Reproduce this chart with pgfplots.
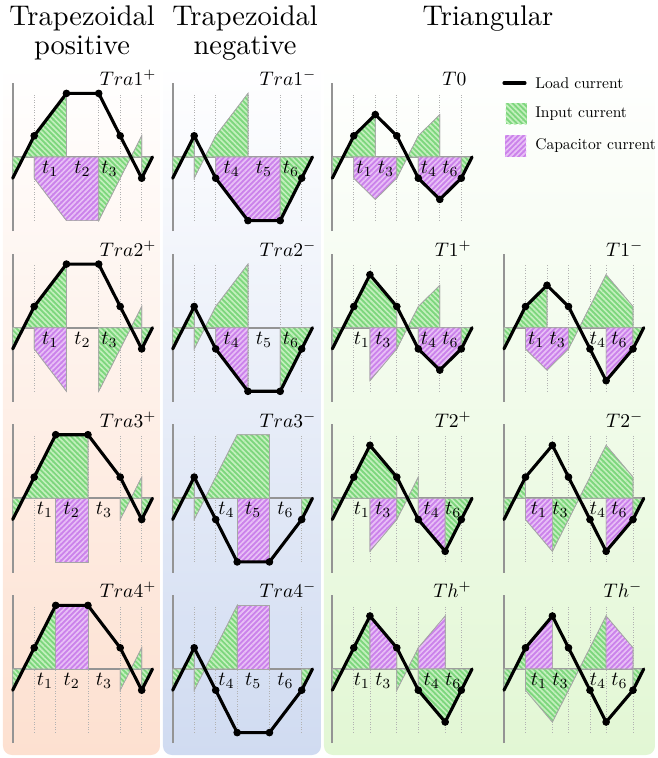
\documentclass[border=0pt]{standalone}
\usepackage{pgfplots}
\pgfplotsset{compat=1.18}
\usetikzlibrary{patterns.meta}
\definecolor{ig}{RGB}{125,214,125}
\definecolor{igl}{RGB}{196,240,190}
\definecolor{cc}{RGB}{203,130,235}
\definecolor{ccl}{RGB}{232,192,246}
\definecolor{bga}{RGB}{253,224,208}
\definecolor{bgb}{RGB}{208,219,241}
\definecolor{bgc}{RGB}{226,247,212}
\newcommand{\tenpt}{\fontsize{10}{12}\selectfont}
\pgfplotsset{
 panelax/.style={anchor=south west, x=9.675pt, y=9.54pt, xmin=0, xmax=6.5, ymin=-3.5, ymax=3.5, hide axis, clip=false},
 inp/.style={fill=ig, draw=black!35, line width=0.3pt, postaction={pattern={Lines[angle=-45,distance=1.7pt,line width=0.75pt]}, pattern color=igl}},
 cap/.style={fill=cc, draw=black!35, line width=0.3pt, postaction={pattern={Lines[angle=45,distance=1.7pt,line width=0.75pt]}, pattern color=ccl}},
 load/.style={black, line width=1.4pt, line join=round, line cap=round},
 dots/.style={only marks, mark=*, mark size=1.5pt, black},
}
\tikzset{gridst/.style={black!30, line width=0.35pt, dash pattern=on 0.35pt off 0.8pt}, axst/.style={black!42, line width=0.8pt}}
\newcommand{\panel}[4]{%
 \begin{axis}[panelax, at={({#1*0.45pt},{-(#2+74.2)*0.45pt})}]
  \pgfplotsinvokeforeach{#3}{\draw[gridst] (axis cs:##1,-3) -- (axis cs:##1,3);}
  \draw[axst] (axis cs:0,-3.5) -- (axis cs:0,3.5);
  \draw[axst] (axis cs:0,0) -- (axis cs:6.5,0);
  #4
 \end{axis}}
\newcommand{\lab}[2]{\node[font=\tenpt, scale=0.9, inner sep=0pt] at (axis cs:#1,-0.55) {$#2$};}
\newcommand{\plabel}[2]{\node[font=\tenpt, scale=0.88, anchor=base east, inner sep=0pt] at (axis cs:#1,3.35) {$#2$};}
\begin{document}
\begin{tikzpicture}
\begin{scope}[x=0.45pt,y=-0.45pt]
 \shade[top color=white, bottom color=bga, rounded corners=4pt] (3,62) rectangle (160,755);
 \shade[top color=white, bottom color=bgb, rounded corners=4pt] (163,62) rectangle (321,755);
 \shade[top color=white, bottom color=bgc, rounded corners=4pt] (324,62) rectangle (655,755);
 \node[font=\tenpt, scale=1.28, anchor=base, inner sep=0pt] at (82,25) {Trapezoidal};
 \node[font=\tenpt, scale=1.28, anchor=base, inner sep=0pt] at (82,54) {positive};
 \node[font=\tenpt, scale=1.28, anchor=base, inner sep=0pt] at (245,25) {Trapezoidal};
 \node[font=\tenpt, scale=1.28, anchor=base, inner sep=0pt] at (245,54) {negative};
 \node[font=\tenpt, scale=1.28, anchor=base, inner sep=0pt] at (488,25) {Triangular};
 \draw[black, line width=1.4pt, line cap=round] (504,83) -- (525,83);
 \node[font=\tenpt, scale=0.7, anchor=west, inner sep=0pt] at (535,83) {Load current};
 \path[fill=ig, postaction={pattern={Lines[angle=-45,distance=1.7pt,line width=0.75pt]}, pattern color=igl}] (505.7,103.3) rectangle (526.7,124.3);
 \node[font=\tenpt, scale=0.7, anchor=west, inner sep=0pt] at (535,114) {Input current};
 \path[fill=cc, postaction={pattern={Lines[angle=45,distance=1.7pt,line width=0.75pt]}, pattern color=ccl}] (505.5,135.3) rectangle (526.5,156.5);
 \node[font=\tenpt, scale=0.7, anchor=west, inner sep=0pt] at (535,146) {Capacitor current};
\end{scope}
% ---------- Tra1+
\panel{12.7}{157}{1,2.5,4,5,6}{
 \addplot[inp] coordinates {(0,0)(0,-1)(1,1)(2.5,3)(2.5,0)} -- cycle;
 \addplot[cap] coordinates {(1,0)(1,-1)(2.5,-3)(4,-3)(4,0)} -- cycle;
 \addplot[inp] coordinates {(4,0)(4,-3)(6,1)(6,0)} -- cycle;
 \addplot[inp] coordinates {(6,0)(6,-1)(6.5,0)} -- cycle;
 \addplot[load] coordinates {(0,-1)(1,1)(2.5,3)(4,3)(5,1)(6,-1)(6.5,0)};
 \addplot[dots] coordinates {(1,1)(2.5,3)(4,3)(5,1)(6,-1)};
 \lab{1.75}{t_1}\lab{3.25}{t_2}\lab{4.5}{t_3}
 \plabel{6.7}{Tra1^+}
}
% ---------- Tra2+
\panel{12.7}{327.7}{1,2.5,4,5,6}{
 \addplot[inp] coordinates {(0,0)(0,-1)(1,1)(2.5,3)(2.5,0)} -- cycle;
 \addplot[cap] coordinates {(1,0)(1,-1)(2.5,-3)(2.5,0)} -- cycle;
 \addplot[inp] coordinates {(4,0)(4,-3)(6,1)(6,0)} -- cycle;
 \addplot[inp] coordinates {(6,0)(6,-1)(6.5,0)} -- cycle;
 \addplot[load] coordinates {(0,-1)(1,1)(2.5,3)(4,3)(5,1)(6,-1)(6.5,0)};
 \addplot[dots] coordinates {(1,1)(2.5,3)(4,3)(5,1)(6,-1)};
 \lab{1.75}{t_1}\lab{3.25}{t_2}\lab{4.5}{t_3}
 \plabel{6.7}{Tra2^+}
}
% ---------- Tra3+
\panel{12.7}{498.3}{1,2,3.5,5,6}{
 \addplot[inp] coordinates {(0,0)(0,-1)(1,1)(2,3)(3.5,3)(3.5,0)} -- cycle;
 \addplot[cap] coordinates {(2,0)(2,-3)(3.5,-3)(3.5,0)} -- cycle;
 \addplot[inp] coordinates {(5,0)(5,-1)(6,1)(6,0)} -- cycle;
 \addplot[inp] coordinates {(6,0)(6,-1)(6.5,0)} -- cycle;
 \addplot[load] coordinates {(0,-1)(1,1)(2,3)(3.5,3)(5,1)(6,-1)(6.5,0)};
 \addplot[dots] coordinates {(1,1)(2,3)(3.5,3)(5,1)(6,-1)};
 \lab{1.5}{t_1}\lab{2.75}{t_2}\lab{4.25}{t_3}
 \plabel{6.7}{Tra3^+}
}
% ---------- Tra4+
\panel{12.7}{669}{1,2,3.5,5,6}{
 \addplot[inp] coordinates {(0,0)(0,-1)(1,1)(2,3)(2,0)} -- cycle;
 \addplot[cap] coordinates {(2,0)(2,3)(3.5,3)(3.5,0)} -- cycle;
 \addplot[inp] coordinates {(5,0)(5,-1)(6,1)(6,0)} -- cycle;
 \addplot[inp] coordinates {(6,0)(6,-1)(6.5,0)} -- cycle;
 \addplot[load] coordinates {(0,-1)(1,1)(2,3)(3.5,3)(5,1)(6,-1)(6.5,0)};
 \addplot[dots] coordinates {(1,1)(2,3)(3.5,3)(5,1)(6,-1)};
 \lab{1.5}{t_1}\lab{2.75}{t_2}\lab{4.25}{t_3}
 \plabel{6.7}{Tra4^+}
}
% ---------- Tra1-
\panel{172.7}{157}{1,2,3.5,5,6}{
 \addplot[inp] coordinates {(0,0)(0,-1)(1,1)(1,0)} -- cycle;
 \addplot[inp] coordinates {(1,0)(1,-1)(2,1)(3.5,3)(3.5,0)} -- cycle;
 \addplot[cap] coordinates {(2,0)(2,-1)(3.5,-3)(5,-3)(5,0)} -- cycle;
 \addplot[inp] coordinates {(5,0)(5,-3)(6,-1)(6.5,0)} -- cycle;
 \addplot[load] coordinates {(0,-1)(1,1)(2,-1)(3.5,-3)(5,-3)(6,-1)(6.5,0)};
 \addplot[dots] coordinates {(1,1)(2,-1)(3.5,-3)(5,-3)(6,-1)};
 \lab{2.75}{t_4}\lab{4.25}{t_5}\lab{5.5}{t_6}
 \plabel{6.7}{Tra1^-}
}
% ---------- Tra2-
\panel{172.7}{327.7}{1,2,3.5,5,6}{
 \addplot[inp] coordinates {(0,0)(0,-1)(1,1)(1,0)} -- cycle;
 \addplot[inp] coordinates {(1,0)(1,-1)(2,1)(3.5,3)(3.5,0)} -- cycle;
 \addplot[cap] coordinates {(2,0)(2,-1)(3.5,-3)(3.5,0)} -- cycle;
 \addplot[inp] coordinates {(5,0)(5,-3)(6,-1)(6.5,0)} -- cycle;
 \addplot[load] coordinates {(0,-1)(1,1)(2,-1)(3.5,-3)(5,-3)(6,-1)(6.5,0)};
 \addplot[dots] coordinates {(1,1)(2,-1)(3.5,-3)(5,-3)(6,-1)};
 \lab{2.75}{t_4}\lab{4.25}{t_5}\lab{5.5}{t_6}
 \plabel{6.7}{Tra2^-}
}
% ---------- Tra3-
\panel{172.7}{498.3}{1,2,3,4.5,6}{
 \addplot[inp] coordinates {(0,0)(0,-1)(1,1)(1,0)} -- cycle;
 \addplot[inp] coordinates {(1,0)(1,-1)(2,1)(3,3)(4.5,3)(4.5,0)} -- cycle;
 \addplot[cap] coordinates {(3,0)(3,-3)(4.5,-3)(4.5,0)} -- cycle;
 \addplot[inp] coordinates {(6,0)(6,-1)(6.5,0)} -- cycle;
 \addplot[load] coordinates {(0,-1)(1,1)(2,-1)(3,-3)(4.5,-3)(6,-1)(6.5,0)};
 \addplot[dots] coordinates {(1,1)(2,-1)(3,-3)(4.5,-3)(6,-1)};
 \lab{2.5}{t_4}\lab{3.75}{t_5}\lab{5.25}{t_6}
 \plabel{6.7}{Tra3^-}
}
% ---------- Tra4-
\panel{172.7}{669}{1,2,3,4.5,6}{
 \addplot[inp] coordinates {(0,0)(0,-1)(1,1)(1,0)} -- cycle;
 \addplot[inp] coordinates {(1,0)(1,-1)(2,1)(3,3)(3,0)} -- cycle;
 \addplot[cap] coordinates {(3,0)(3,3)(4.5,3)(4.5,0)} -- cycle;
 \addplot[inp] coordinates {(6,0)(6,-1)(6.5,0)} -- cycle;
 \addplot[load] coordinates {(0,-1)(1,1)(2,-1)(3,-3)(4.5,-3)(6,-1)(6.5,0)};
 \addplot[dots] coordinates {(1,1)(2,-1)(3,-3)(4.5,-3)(6,-1)};
 \lab{2.5}{t_4}\lab{3.75}{t_5}\lab{5.25}{t_6}
 \plabel{6.7}{Tra4^-}
}
% ---------- T0
\panel{332.3}{157}{1,2,3,4,5,6}{
 \addplot[inp] coordinates {(0,0)(0,-1)(1,1)(2,2)(2,0)} -- cycle;
 \addplot[cap] coordinates {(1,0)(1,-1)(2,-2)(3,-1)(3,0)} -- cycle;
 \addplot[inp] coordinates {(3,0)(3,-1)(4,1)(5,2)(5,0)} -- cycle;
 \addplot[cap] coordinates {(4,0)(4,-1)(5,-2)(6,-1)(6,0)} -- cycle;
 \addplot[inp] coordinates {(6,0)(6,-1)(6.5,0)} -- cycle;
 \addplot[load] coordinates {(0,-1)(1,1)(2,2)(3,1)(4,-1)(5,-2)(6,-1)(6.5,0)};
 \addplot[dots] coordinates {(1,1)(2,2)(3,1)(4,-1)(5,-2)(6,-1)};
 \lab{1.5}{t_1}\lab{2.5}{t_3}\lab{4.5}{t_4}\lab{5.5}{t_6}
 \plabel{6.25}{T0}
}
% ---------- T1+
\panel{332.3}{327.7}{1,1.75,3,4,5,6}{
 \addplot[inp] coordinates {(0,0)(0,-1)(1,1)(1.75,2.5)(3,1)(3,0)} -- cycle;
 \addplot[cap] coordinates {(1.75,0)(1.75,-2.5)(3,-1)(3,0)} -- cycle;
 \addplot[inp] coordinates {(3,0)(3,-1)(4,1)(5,2)(5,0)} -- cycle;
 \addplot[cap] coordinates {(4,0)(4,-1)(5,-2)(6,-1)(6,0)} -- cycle;
 \addplot[inp] coordinates {(6,0)(6,-1)(6.5,0)} -- cycle;
 \addplot[load] coordinates {(0,-1)(1,1)(1.75,2.5)(3,1)(4,-1)(5,-2)(6,-1)(6.5,0)};
 \addplot[dots] coordinates {(1,1)(1.75,2.5)(3,1)(4,-1)(5,-2)(6,-1)};
 \lab{1.375}{t_1}\lab{2.375}{t_3}\lab{4.5}{t_4}\lab{5.5}{t_6}
 \plabel{6.5}{T1^+}
}
% ---------- T1-
\panel{504}{327.7}{1,2,3,4,4.75,6}{
 \addplot[inp] coordinates {(0,0)(0,-1)(1,1)(2,2)(2,0)} -- cycle;
 \addplot[cap] coordinates {(1,0)(1,-1)(2,-2)(3,-1)(3,0)} -- cycle;
 \addplot[inp] coordinates {(3,0)(3,-1)(4,1)(4.75,2.5)(6,1)(6,0)} -- cycle;
 \addplot[cap] coordinates {(4.75,0)(4.75,-2.5)(6,-1)(6,0)} -- cycle;
 \addplot[inp] coordinates {(6,0)(6,-1)(6.5,0)} -- cycle;
 \addplot[load] coordinates {(0,-1)(1,1)(2,2)(3,1)(4,-1)(4.75,-2.5)(6,-1)(6.5,0)};
 \addplot[dots] coordinates {(1,1)(2,2)(3,1)(4,-1)(4.75,-2.5)(6,-1)};
 \lab{1.5}{t_1}\lab{2.5}{t_3}\lab{4.375}{t_4}\lab{5.375}{t_6}
 \plabel{6.5}{T1^-}
}
% ---------- T2+
\panel{332.3}{498.3}{1,1.75,3,4,5.25,6}{
 \addplot[inp] coordinates {(0,0)(0,-1)(1,1)(1.75,2.5)(3,1)(3,0)} -- cycle;
 \addplot[cap] coordinates {(1.75,0)(1.75,-2.5)(3,-1)(3,0)} -- cycle;
 \addplot[inp] coordinates {(3,0)(3,-1)(4,1)(4,0)} -- cycle;
 \addplot[cap] coordinates {(4,0)(4,-1)(5.25,-2.5)(5.25,0)} -- cycle;
 \addplot[inp] coordinates {(5.25,0)(5.25,-2.5)(6,-1)(6.5,0)} -- cycle;
 \addplot[load] coordinates {(0,-1)(1,1)(1.75,2.5)(3,1)(4,-1)(5.25,-2.5)(6,-1)(6.5,0)};
 \addplot[dots] coordinates {(1,1)(1.75,2.5)(3,1)(4,-1)(5.25,-2.5)(6,-1)};
 \lab{1.375}{t_1}\lab{2.375}{t_3}\lab{4.625}{t_4}\lab{5.625}{t_6}
 \plabel{6.5}{T2^+}
}
% ---------- T2-
\panel{504}{498.3}{1,2.25,3,4,4.75,6}{
 \addplot[inp] coordinates {(0,0)(0,-1)(1,1)(1,0)} -- cycle;
 \addplot[cap] coordinates {(1,0)(1,-1)(2.25,-2.5)(2.25,0)} -- cycle;
 \addplot[inp] coordinates {(2.25,0)(2.25,-2.5)(3,-1)(4,1)(4.75,2.5)(6,1)(6,0)} -- cycle;
 \addplot[cap] coordinates {(4.75,0)(4.75,-2.5)(6,-1)(6,0)} -- cycle;
 \addplot[inp] coordinates {(6,0)(6,-1)(6.5,0)} -- cycle;
 \addplot[load] coordinates {(0,-1)(1,1)(2.25,2.5)(3,1)(4,-1)(4.75,-2.5)(6,-1)(6.5,0)};
 \addplot[dots] coordinates {(1,1)(2.25,2.5)(3,1)(4,-1)(4.75,-2.5)(6,-1)};
 \lab{1.625}{t_1}\lab{2.625}{t_3}\lab{4.375}{t_4}\lab{5.375}{t_6}
 \plabel{6.5}{T2^-}
}
% ---------- Th+
\panel{332.3}{669}{1,1.75,3,4,5.25,6}{
 \addplot[inp] coordinates {(0,0)(0,-1)(1,1)(1.75,2.5)(1.75,0)} -- cycle;
 \addplot[cap] coordinates {(1.75,0)(1.75,2.5)(3,1)(3,0)} -- cycle;
 \addplot[inp] coordinates {(3,0)(3,-1)(4,1)(4,0)} -- cycle;
 \addplot[cap] coordinates {(4,0)(4,1)(5.25,2.5)(5.25,0)} -- cycle;
 \addplot[inp] coordinates {(4,0)(4,-1)(5.25,-2.5)(6,-1)(6.5,0)} -- cycle;
 \addplot[load] coordinates {(0,-1)(1,1)(1.75,2.5)(3,1)(4,-1)(5.25,-2.5)(6,-1)(6.5,0)};
 \addplot[dots] coordinates {(1,1)(1.75,2.5)(3,1)(4,-1)(5.25,-2.5)(6,-1)};
 \lab{1.375}{t_1}\lab{2.375}{t_3}\lab{4.625}{t_4}\lab{5.625}{t_6}
 \plabel{6.5}{Th^+}
}
% ---------- Th-
\panel{504}{669}{1,2.25,3,4,4.75,6}{
 \addplot[inp] coordinates {(0,0)(0,-1)(1,1)(1,0)} -- cycle;
 \addplot[cap] coordinates {(1,0)(1,1)(2.25,2.5)(2.25,0)} -- cycle;
 \addplot[inp] coordinates {(1,0)(1,-1)(2.25,-2.5)(3,-1)(4,1)(4.75,2.5)(4.75,0)} -- cycle;
 \addplot[cap] coordinates {(4.75,0)(4.75,2.5)(6,1)(6,0)} -- cycle;
 \addplot[inp] coordinates {(6,0)(6,-1)(6.5,0)} -- cycle;
 \addplot[load] coordinates {(0,-1)(1,1)(2.25,2.5)(3,1)(4,-1)(4.75,-2.5)(6,-1)(6.5,0)};
 \addplot[dots] coordinates {(1,1)(2.25,2.5)(3,1)(4,-1)(4.75,-2.5)(6,-1)};
 \lab{1.625}{t_1}\lab{2.625}{t_3}\lab{4.375}{t_4}\lab{5.375}{t_6}
 \plabel{6.45}{Th^-}
}
\pgfresetboundingbox
\useasboundingbox (0,0) rectangle (296.1pt,-341.1pt);
\end{tikzpicture}
\end{document}
